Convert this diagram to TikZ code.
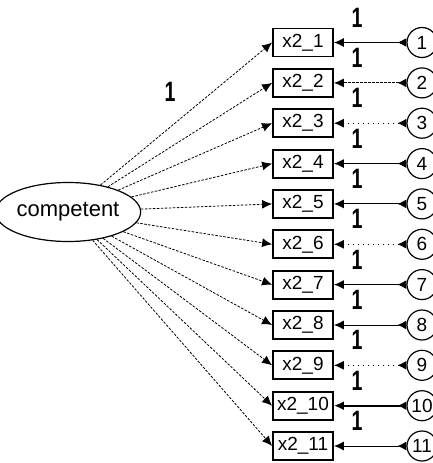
\documentclass[tikz,border=0pt]{standalone}
\usepackage{fontspec}
\setmainfont{Liberation Sans}
\usetikzlibrary{arrows.meta}
\usetikzlibrary{calc}
\usetikzlibrary{shapes.geometric}

\begin{document}
\begin{tikzpicture}[x=1pt,y=-1pt,
  obs/.style={draw,line width=1.8pt,rectangle,minimum width=60pt,minimum height=28pt,inner sep=0pt,font=\fontsize{19}{20}\selectfont},
  err/.style={draw,line width=1.2pt,circle,minimum size=30pt,inner sep=0pt,font=\fontsize{19}{20}\selectfont},
  loading/.style={line width=0.8pt,dash pattern=on 2.5pt off 1.5pt,-{Latex[length=10pt,width=9pt]}},
  errline/.style={line width=1pt,{Latex[length=9pt,width=9pt,reversed]}-{Latex[length=10pt,width=9pt]}},
  one/.style={font=\bfseries\fontsize{28}{28}\selectfont}]
\useasboundingbox (0,0) rectangle (432,463);

% latent factor
\node[draw,line width=1.2pt,ellipse,minimum width=127pt,minimum height=59pt,inner sep=0pt,font=\fontsize{22}{22}\selectfont] (comp) at (68,212) {competent};

% observed items
\node[obs] (x1) at (303,42.5) {x2\_1};
\node[obs] (x2) at (303,82.9) {x2\_2};
\node[obs] (x3) at (303,123.2) {x2\_3};
\node[obs] (x4) at (303,163.6) {x2\_4};
\node[obs] (x5) at (303,203.9) {x2\_5};
\node[obs] (x6) at (303,244.3) {x2\_6};
\node[obs] (x7) at (303,284.6) {x2\_7};
\node[obs] (x8) at (303,325.0) {x2\_8};
\node[obs] (x9) at (303,365.3) {x2\_9};
\node[obs] (x10) at (303,405.7) {x2\_10};
\node[obs] (x11) at (303,446.0) {x2\_11};

% error terms
\node[err] (e1) at (422,42.5) {1};
\node[err] (e2) at (422,82.9) {2};
\node[err] (e3) at (422,123.2) {3};
\node[err] (e4) at (422,163.6) {4};
\node[err] (e5) at (422,203.9) {5};
\node[err] (e6) at (422,244.3) {6};
\node[err] (e7) at (422,284.6) {7};
\node[err] (e8) at (422,325.0) {8};
\node[err] (e9) at (422,365.3) {9};
\node[err] (e10) at (422,405.7) {10};
\node[err] (e11) at (422,446.0) {11};

% loadings
\draw[loading] (comp) to (x1.west);
\draw[loading] (comp) to (x2.west);
\draw[loading] (comp) to (x3.west);
\draw[loading] (comp) to (x4.west);
\draw[loading] (comp) to (x5.west);
\draw[loading] (comp) to (x6.west);
\draw[loading] (comp) to (x7.west);
\draw[loading] (comp) to (x8.west);
\draw[loading] (comp) to (x9.west);
\draw[loading] (comp) to (x10.west);
\draw[loading] (comp) to (x11.west);
\node[one] (w1) at (170,92) {\scalebox{0.7}[1]{1}};

% error paths
\draw[errline] (e1) to (x1);
\draw[errline,dash pattern=on 3pt off 1pt] (e2) to (x2);
\draw[errline,dash pattern=on 1pt off 4pt] (e3) to (x3);
\draw[errline] (e4) to (x4);
\draw[errline] (e5) to (x5);
\draw[errline,dash pattern=on 1pt off 4pt] (e6) to (x6);
\draw[errline] (e7) to (x7);
\draw[errline] (e8) to (x8);
\draw[errline,dash pattern=on 1pt off 4pt] (e9) to (x9);
\draw[errline,line width=2pt] (e10) to (x10);
\draw[errline] (e11) to (x11);

\node[one] (f1) at ($(x1)+(54,-25)$) {\scalebox{0.7}[1]{1}};
\node[one] (f2) at ($(x2)+(54,-25)$) {\scalebox{0.7}[1]{1}};
\node[one] (f3) at ($(x3)+(54,-25)$) {\scalebox{0.7}[1]{1}};
\node[one] (f4) at ($(x4)+(54,-25)$) {\scalebox{0.7}[1]{1}};
\node[one] (f5) at ($(x5)+(54,-25)$) {\scalebox{0.7}[1]{1}};
\node[one] (f6) at ($(x6)+(54,-25)$) {\scalebox{0.7}[1]{1}};
\node[one] (f7) at ($(x7)+(54,-25)$) {\scalebox{0.7}[1]{1}};
\node[one] (f8) at ($(x8)+(54,-25)$) {\scalebox{0.7}[1]{1}};
\node[one] (f9) at ($(x9)+(54,-25)$) {\scalebox{0.7}[1]{1}};
\node[one] (f10) at ($(x10)+(54,-25)$) {\scalebox{0.7}[1]{1}};
\node[one] (f11) at ($(x11)+(54,-25)$) {\scalebox{0.7}[1]{1}};
\end{tikzpicture}
\end{document}
